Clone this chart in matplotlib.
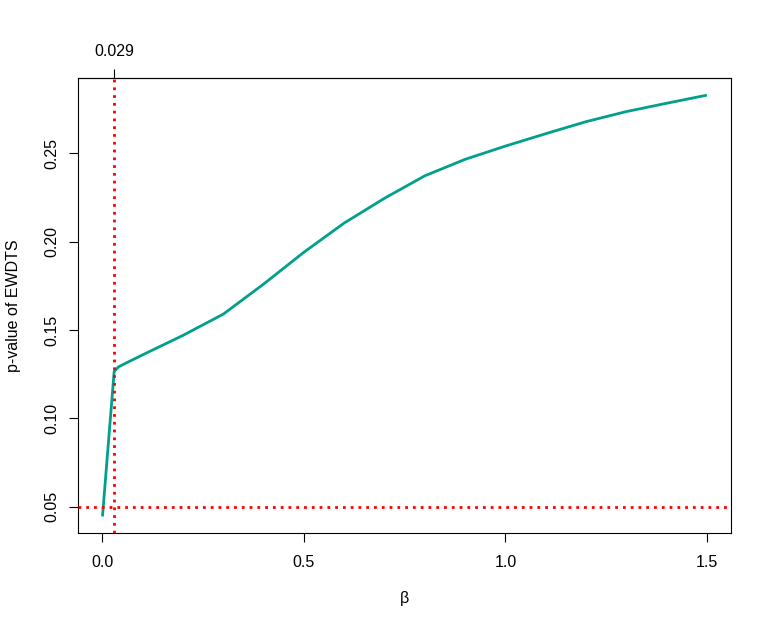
import matplotlib
matplotlib.use("Agg")
import matplotlib.pyplot as plt

plt.rcParams['font.family'] = ['Liberation Sans', 'DejaVu Sans']

beta = [0.0, 0.029, 0.04, 0.06, 0.1, 0.2, 0.3, 0.4, 0.5, 0.6, 0.7, 0.8, 0.9,
        1.0, 1.1, 1.2, 1.3, 1.4, 1.5]
pval = [0.0446, 0.1266, 0.1292, 0.1315, 0.1360, 0.1470, 0.1590, 0.1760,
        0.1940, 0.2105, 0.2245, 0.2372, 0.2465, 0.2540, 0.2610, 0.2678,
        0.2735, 0.2782, 0.2828]
beta_star = 0.029
alpha = 0.05
xticks = [0.0, 0.5, 1.0, 1.5]
xticklabels = ['0.0', '0.5', '1.0', '1.5']
yticks = [0.05, 0.10, 0.15, 0.20, 0.25]
yticklabels = ['0.05', '0.10', '0.15', '0.20', '0.25']

W, H = 772, 631
fig = plt.figure(figsize=(W / 100, H / 100), dpi=100)
left, right, top, bottom = 78.3, 731.0, 78.3, 533.3
ax = fig.add_axes([left / W, 1 - bottom / H, (right - left) / W, (bottom - top) / H])

teal = '#00A08A'
ax.plot(beta, pval, color=teal, lw=2.0, solid_capstyle='butt', zorder=3)
ax.axvline(beta_star, color='#FF0000', lw=2.0, linestyle=(0, (1, 1.8)), zorder=4)
ax.axhline(alpha, color='#FF0000', lw=2.0, linestyle=(0, (1, 1.8)), zorder=4)

xr = max(beta) - min(beta)
ax.set_xlim(min(beta) - 0.04 * xr, max(beta) + 0.04 * xr)
yr = max(pval) - min(pval)
ax.set_ylim(min(pval) - 0.04 * yr, max(pval) + 0.04 * yr)

fs = 11.5
ax.set_xticks(xticks, labels=xticklabels)
ax.set_yticks(yticks, labels=yticklabels)
ax.tick_params(axis='x', length=6.8, width=0.8, pad=9, labelsize=fs, color='black')
ax.tick_params(axis='y', length=6.8, width=0.8, pad=7, labelsize=fs, color='black')
for lab in ax.get_yticklabels():
    lab.set_rotation(90)
    lab.set_va('center')

for s in ax.spines.values():
    s.set_linewidth(0.8)

sec = ax.secondary_xaxis('top')
sec.set_xticks([beta_star], labels=['0.029'])
sec.tick_params(axis='x', length=6.8, width=0.8, pad=7, labelsize=fs)
sec.spines['top'].set_linewidth(0.8)

ax.set_xlabel('β', fontsize=fs)
ax.set_ylabel('p-value of EWDTS', fontsize=fs)
ax.xaxis.set_label_coords(0.5, -(599 - bottom) / (bottom - top))
ax.xaxis.label.set_va('center')
ax.yaxis.set_label_coords(-(left - 14) / (right - left), 0.5)
ax.yaxis.label.set_va('center')

fig.savefig('out.png', dpi=100)
